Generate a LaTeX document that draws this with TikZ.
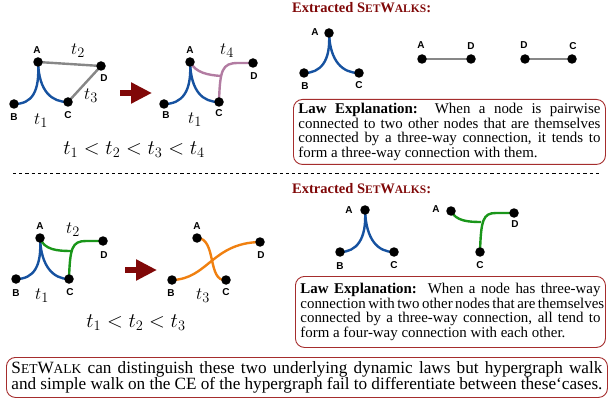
\documentclass[tikz,border=0pt]{standalone}
\usepackage{fontspec}
\setmainfont{Liberation Serif}
\setsansfont{Liberation Sans}
\usetikzlibrary{arrows.meta,backgrounds}
\definecolor{hblue}{RGB}{22,82,160}
\definecolor{hgray}{RGB}{135,135,135}
\definecolor{hpink}{RGB}{178,124,162}
\definecolor{hgreen}{RGB}{26,150,26}
\definecolor{horange}{RGB}{240,128,16}
\definecolor{hred}{RGB}{128,8,8}
\definecolor{hbox}{RGB}{165,45,45}
\newcommand{\smallcap}[2][11.5]{{\fontsize{#1}{12}\selectfont #2}}
\tikzset{
  dot/.style={circle,fill=black,inner sep=0pt,minimum size=9.5pt},
  vlbl/.style={inner sep=0.5pt,font=\fontsize{10}{11}\selectfont\sffamily\bfseries},
  tlbl/.style={font=\fontsize{19}{22}\selectfont},
  hedge/.style={line width=2.4pt},
  heading/.style={anchor=west,inner sep=0pt,text=hred,font=\fontsize{14.5}{16}\selectfont\bfseries},
  lawbox/.style={draw=hbox,line width=0.9pt,rounded corners=9pt,anchor=north west,align=left,
    inner xsep=4pt,inner ysep=2pt,font=\fontsize{14.9}{14.4}\selectfont},
  bigarrow/.style={draw=hred,line width=6pt,-{Triangle[length=21pt,width=20pt]}}
}
\begin{document}
\begin{tikzpicture}[x=1pt,y=-1pt]
\useasboundingbox (0,0) rectangle (610,398);

% first law: before
\node[dot] (a1) at (38,62) {};
\node[dot] (b1) at (14,104) {};
\node[dot] (c1) at (68,102) {};
\node[dot] (d1) at (101,66) {};
\node[vlbl] (la1) at (37,50) {A};
\node[vlbl] (lb1) at (14,117) {B};
\node[vlbl] (lc1) at (68,115) {C};
\node[vlbl] (ld1) at (104,78) {D};
\node[tlbl] (t12) at (78,51) {$t_2$};
\node[tlbl] (t13) at (91,96) {$t_3$};
\node[tlbl] (t11) at (41,121) {$t_1$};

% first law: after
\node[dot] (a2) at (190,62) {};
\node[dot] (b2) at (164,104) {};
\node[dot] (c2) at (219,102) {};
\node[dot] (d2) at (253,63) {};
\coordinate (j2) at (221,76);
\node[vlbl] (la2) at (190,50) {A};
\node[vlbl] (lb2) at (166,115) {B};
\node[vlbl] (lc2) at (219,113) {C};
\node[vlbl] (ld2) at (254,76) {D};
\node[tlbl] (t24) at (227,51) {$t_4$};
\node[tlbl] (t21) at (195,120) {$t_1$};

\coordinate (ar1s) at (120,93);
\coordinate (ar1e) at (152,93);
\draw[bigarrow] (ar1s) -- (ar1e);
\node[tlbl,font=\fontsize{20}{24}\selectfont] (ord1) at (134,150) {$t_1<t_2<t_3<t_4$};

% extracted walks, first law
\node[heading] (hd1) at (292,8) {Extracted S\smallcap{ET}W\smallcap{ALKS}:};
\node[dot] (e1a) at (329,33) {};
\node[dot] (e1b) at (304,73) {};
\node[dot] (e1c) at (359,73) {};
\node[vlbl] (le1a) at (315,32) {A};
\node[vlbl] (le1b) at (305,86) {B};
\node[vlbl] (le1c) at (359,85) {C};
\node[dot] (e2a) at (422,59) {};
\node[dot] (e2d) at (471,59) {};
\node[vlbl] (le2a) at (421,45) {A};
\node[vlbl] (le2d) at (471,46) {D};
\node[dot] (e3d) at (525,59) {};
\node[dot] (e3c) at (572,59) {};
\node[vlbl] (le3d) at (524,45) {D};
\node[vlbl] (le3c) at (573,46) {C};

\node[lawbox,minimum width=312pt,minimum height=65pt] (law1) at (293,99) {%
\makebox[302pt][s]{\textbf{Law Explanation:}\ \ When a node is pairwise}\\
\makebox[302pt][s]{connected to two other nodes that are themselves}\\
\makebox[302pt][s]{connected by a three-way connection, it tends to}\\
form a three-way connection with them.};

\coordinate (sepl) at (13,173);
\coordinate (sepr) at (600,173);
\draw[line width=0.8pt,dash pattern=on 3.2pt off 3pt] (sepl) -- (sepr);

% second law: before
\node[dot] (a3) at (40,238) {};
\node[dot] (b3) at (16,279) {};
\node[dot] (c3) at (69,279) {};
\node[dot] (d3) at (103,241) {};
\coordinate (j3) at (71,251);
\node[vlbl] (la3) at (40,226) {A};
\node[vlbl] (lb3) at (16,293) {B};
\node[vlbl] (lc3) at (70,292) {C};
\node[vlbl] (ld3) at (104,255) {D};
\node[tlbl] (t32) at (73,230) {$t_2$};
\node[tlbl] (t31) at (42,296) {$t_1$};

% second law: after
\node[dot] (a4) at (197,238) {};
\node[dot] (b4) at (172,280) {};
\node[dot] (c4) at (226,280) {};
\node[dot] (d4) at (260,242) {};
\node[vlbl] (la4) at (197,226) {A};
\node[vlbl] (lb4) at (171,293) {B};
\node[vlbl] (lc4) at (226,292) {C};
\node[vlbl] (ld4) at (261,255) {D};
\node[tlbl] (t43) at (203,296) {$t_3$};

\coordinate (ar2s) at (125,270);
\coordinate (ar2e) at (157,270);
\draw[bigarrow] (ar2s) -- (ar2e);
\node[tlbl,font=\fontsize{20}{24}\selectfont] (ord2) at (136,323) {$t_1<t_2<t_3$};

% extracted walks, second law
\node[heading] (hd2) at (292,189) {Extracted S\smallcap{ET}W\smallcap{ALKS}:};
\node[dot] (f1a) at (365,210) {};
\node[dot] (f1b) at (340,252) {};
\node[dot] (f1c) at (394,252) {};
\node[vlbl] (lf1a) at (349,210) {A};
\node[vlbl] (lf1b) at (340,266) {B};
\node[vlbl] (lf1c) at (394,265) {C};
\node[dot] (f2a) at (451,211) {};
\node[dot] (f2c) at (480,252) {};
\node[dot] (f2d) at (514,213) {};
\coordinate (jf) at (481,222);
\node[vlbl] (lf2a) at (436,209) {A};
\node[vlbl] (lf2c) at (480,265) {C};
\node[vlbl] (lf2d) at (515,224) {D};

\node[lawbox,minimum width=310pt,minimum height=71pt] (law2) at (295,276) {%
\makebox[300pt][s]{\textbf{Law Explanation:}\ \ When a node has three-way}\\
\makebox[300pt][s]{connection with two other nodes that are themselves}\\
\makebox[300pt][s]{connected by a three-way connection, all tend to}\\
form a four-way connection with each other.};

\node[lawbox,minimum width=601pt,minimum height=40pt,font=\fontsize{17.2}{15.5}\selectfont] (note) at (6,357) {%
\makebox[591pt][s]{S\smallcap[13.5]{ET}W\smallcap[13.5]{ALK} can distinguish these two underlying dynamic laws but hypergraph walk}\\
\makebox[591pt][s]{and simple walk on the CE of the hypergraph fail to differentiate between these`cases.}};

\begin{scope}[on background layer]
\draw[hedge,hblue] (b1.center) .. controls (32,104) and (40,92) .. (a1.center);
\draw[hedge,hblue] (c1.center) .. controls (52,102) and (39,92) .. (a1.center);
\draw[hedge,hgray] (a1.center) -- (d1.center) -- (c1.center);
\draw[hedge,hblue] (b2.center) .. controls (182,104) and (192,92) .. (a2.center);
\draw[hedge,hblue] (c2.center) .. controls (203,102) and (191,92) .. (a2.center);
\draw[hedge,hpink] (a2.center) .. controls (196,73) and (208,75) .. (j2);
\draw[hedge,hpink] (c2.center) .. controls (220,70) and (222,63) .. (238,63) -- (d2.center);
\draw[hedge,hblue] (e1b.center) .. controls (320,73) and (331,62) .. (e1a.center);
\draw[hedge,hblue] (e1c.center) .. controls (343,73) and (330,62) .. (e1a.center);
\draw[hedge,hgray] (e2a.center) -- (e2d.center);
\draw[hedge,hgray] (e3d.center) -- (e3c.center);
\draw[hedge,hblue] (b3.center) .. controls (34,279) and (42,266) .. (a3.center);
\draw[hedge,hblue] (c3.center) .. controls (53,279) and (41,266) .. (a3.center);
\draw[hedge,hgreen] (a3.center) .. controls (44,250) and (58,251) .. (j3);
\draw[hedge,hgreen] (c3.center) .. controls (70,248) and (72,241) .. (86,241) -- (d3.center);
\draw[hedge,horange] (b4.center) .. controls (208,279) and (212,243) .. (d4.center);
\draw[hedge,horange] (a4.center) .. controls (217,238) and (207,282) .. (c4.center);
\draw[hedge,hblue] (f1b.center) .. controls (356,252) and (367,240) .. (f1a.center);
\draw[hedge,hblue] (f1c.center) .. controls (378,252) and (366,240) .. (f1a.center);
\draw[hedge,hgreen] (f2a.center) .. controls (456,221) and (468,222) .. (jf);
\draw[hedge,hgreen] (f2c.center) .. controls (481,220) and (483,213) .. (496,213) -- (f2d.center);
\end{scope}
\end{tikzpicture}
\end{document}
